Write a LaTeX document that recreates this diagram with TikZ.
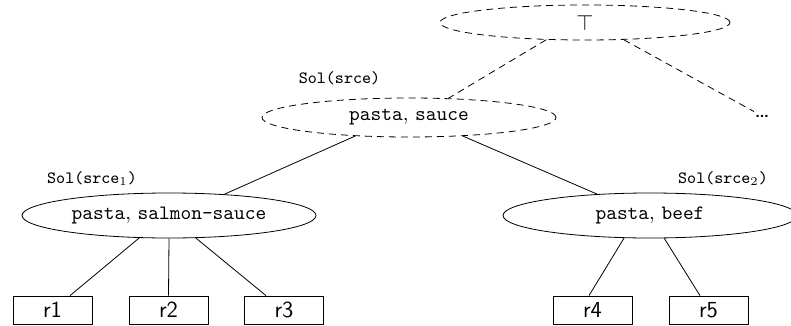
\documentclass[tikz,border=0pt]{standalone}
\usetikzlibrary{shapes.geometric,calc}
\begin{document}
\begin{tikzpicture}[x=0.5pt,y=-0.5pt,
  ell/.style={ellipse,draw,inner sep=0pt,minimum width=147pt,minimum height=22.5pt,font=\fontsize{10.2}{12}\selectfont},
  dsh/.style={dash pattern=on 3.5pt off 2.5pt},
  leaf/.style={rectangle,draw,minimum width=39.5pt,minimum height=14pt,inner sep=0pt,font=\sffamily\fontsize{11.5}{13}\selectfont},
  lbl/.style={font=\ttfamily\fontsize{8.6}{10}\selectfont,inner sep=0pt}]
\useasboundingbox (0,0) rectangle (791,326);

\node[ell,dsh,minimum width=145pt,minimum height=17.5pt] (top) at (585,22.5) {\fontsize{10.5}{12}\selectfont$\top$};
\node[ell,dsh,minimum height=19.5pt] (sauce) at (409,117.5) {\texttt{pasta}, \texttt{sauce}};
\node[ell] (salmon) at (169,215.5) {\texttt{pasta}, \texttt{salmon-sauce}};
\node[ell] (beef) at (650,215.5) {\texttt{pasta}, \texttt{beef}};
\node[inner sep=1.5pt,font=\sffamily\fontsize{13}{15}\selectfont] (dots) at (762,116) {\ldots};

\node[lbl] (lsauce) at (339.5,78) {Sol(srce)};
\node[lbl] (lsalmon) at (92,179) {Sol(srce$_1$)};
\node[lbl] (lbeef) at (723,179) {Sol(srce$_2$)};

\node[leaf] (r1) at (52.5,310) {r1};
\node[leaf] (r2) at (168.5,310) {r2};
\node[leaf] (r3) at (284,310) {r3};
\node[leaf] (r4) at (592.5,310) {r4};
\node[leaf] (r5) at (708.5,310) {r5};

\draw[dsh] (top.204.6) -- (sauce.26.4);
\draw[dsh] (top.336) -- (dots);
\draw (sauce.199.7) -- (salmon.21.6);
\draw (sauce.341.1) -- (beef.158);
\draw (salmon.217.3) -- ($(r1.north)+(17.5,0)$);
\draw (salmon.south) -- (r2.north);
\draw (salmon.320.7) -- ($(r3.north)+(-18,0)$);
\draw (beef.221.6) -- ($(r4.north)+(-3.5,0)$);
\draw (beef.302) -- ($(r5.north)+(-8.5,0)$);
\end{tikzpicture}
\end{document}
